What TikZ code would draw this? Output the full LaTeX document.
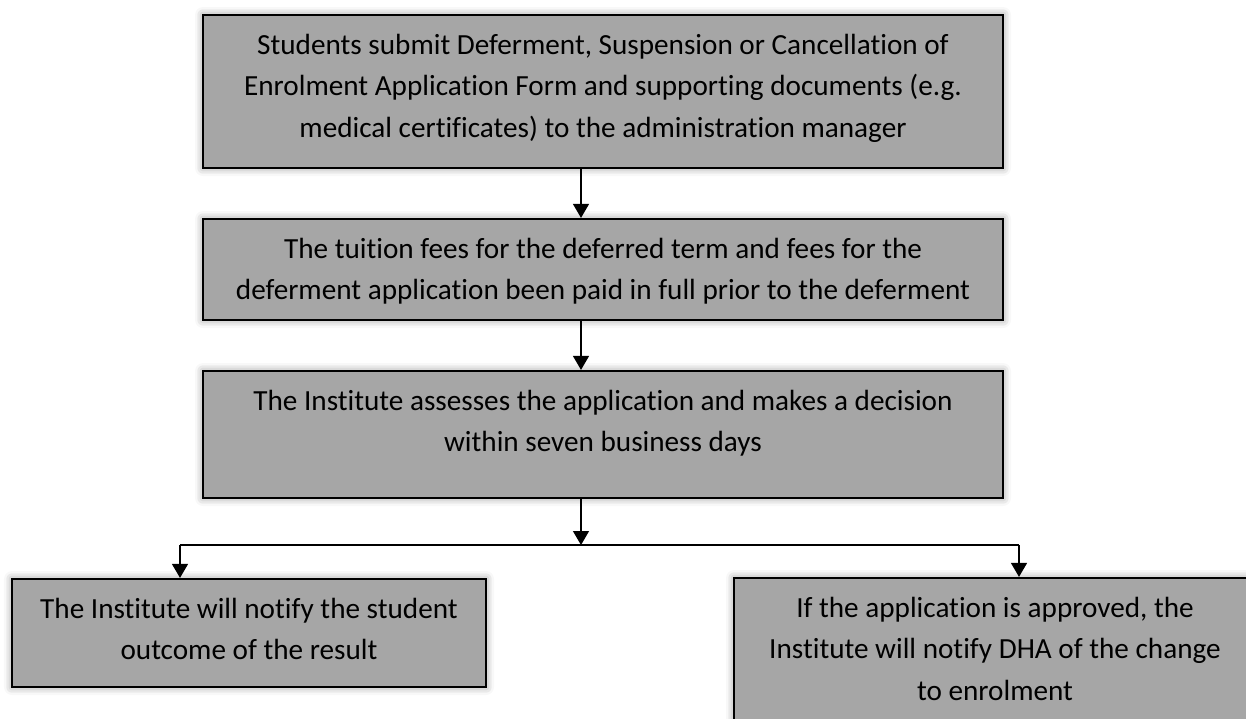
\documentclass[tikz,border=0pt]{standalone}
\usepackage{fontspec}
\setmainfont{Carlito}[Ligatures=NoCommon]
\usepackage{tikz}
\usetikzlibrary{arrows.meta, shadows.blur}
\definecolor{boxgray}{HTML}{A6A6A6}
\newcommand{\boxtext}[3]{\parbox[c][#2][t]{#1}{\centering\rule{0pt}{39pt}#3}}

\begin{document}
\begin{tikzpicture}[
        x=1pt, y=-1pt,
        stepbox/.style={
            draw, line width=2.2pt, fill=boxgray, inner sep=0pt,
            blur shadow={shadow xshift=0pt, shadow yshift=0pt, shadow blur radius=8pt, shadow opacity=45},
            font=\fontsize{29.2pt}{41.5pt}\selectfont,
        },
        flow/.style={line width=1.3pt, -{Triangle[length=14pt, width=16pt]}},
    ]
    \path[use as bounding box, clip] (0,0) rectangle (1246,718);
    \node[stepbox] (submit) at (603,91.5)
        {\boxtext{800pt}{153pt}{Students submit Deferment, Suspension or Cancellation of\\Enrolment Application Form and supporting documents (e.g.\\medical certificates) to the administration manager}};
    \node[stepbox] (fees) at (603,269.5)
        {\boxtext{800pt}{101pt}{The tuition fees for the deferred term and fees for the\\deferment application been paid in full prior to the deferment}};
    \node[stepbox] (assess) at (603,434.5)
        {\boxtext{800pt}{127pt}{The Institute assesses the application and makes a decision\\within seven business days}};
    \node[stepbox] (notify) at (249,633)
        {\boxtext{474pt}{108pt}{The Institute will notify the student\\outcome of the result}};
    \node[stepbox] (dha) at (995,658)
        {\boxtext{522pt}{160pt}{If the application is approved, the\\Institute will notify DHA of the change\\to enrolment}};
    \coordinate (trunk) at (581,545);
    \coordinate (forkL) at (180,545);
    \coordinate (forkR) at (1019,545);
    \draw[flow] (submit.south -| trunk) -- (fees.north -| trunk);
    \draw[flow] (fees.south -| trunk) -- (assess.north -| trunk);
    \draw[flow] (assess.south -| trunk) -- (trunk);
    \draw[line width=1.3pt] (forkL) -- (forkR);
    \draw[flow] (forkL) -- (forkL |- notify.north);
    \draw[flow] (forkR) -- (forkR |- dha.north);
\end{tikzpicture}
\end{document}
